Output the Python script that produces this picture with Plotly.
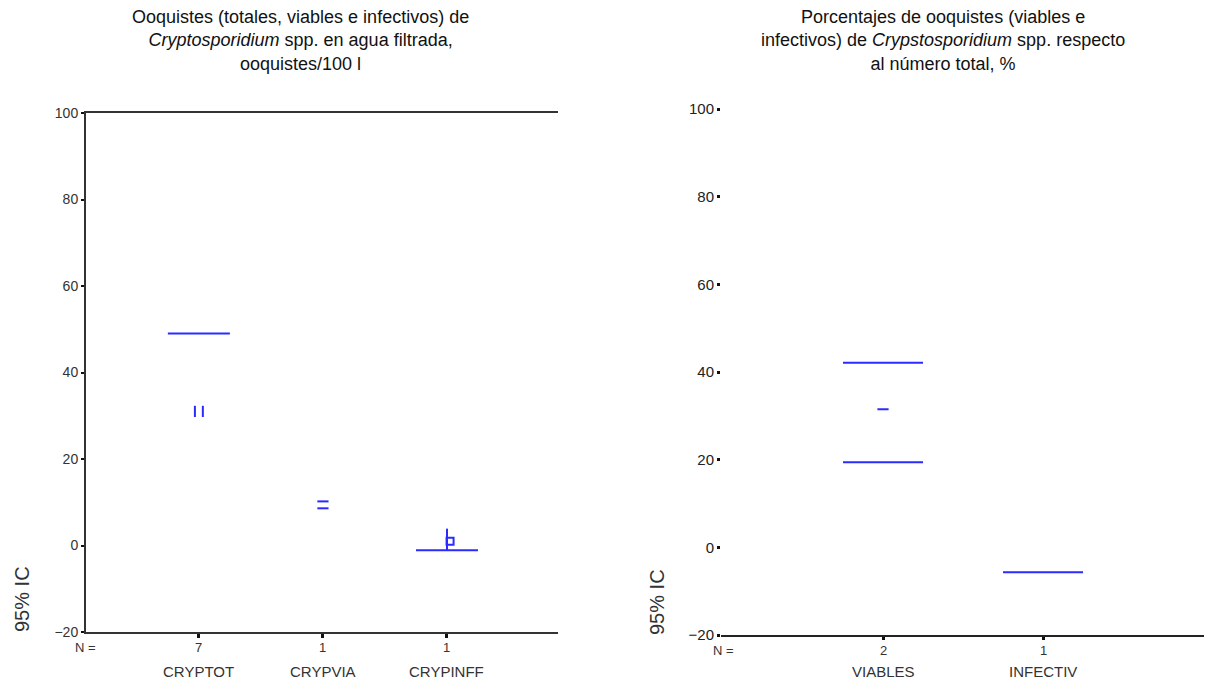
import plotly.graph_objects as go

W, H = 1218, 680

# ---------------- data ----------------
left_categories = ["CRYPTOT", "CRYPVIA", "CRYPINFF"]
left_n = [7, 1, 1]
left_caps = [49.0, None, -1.1]          # wide horizontal CI lines
left_means = [31.0, 9.4, 1.0]           # mean markers
left_whisker_top = [None, None, 3.9]    # vertical whisker end

right_categories = ["VIABLES", "INFECTIV"]
right_n = [2, 1]
right_upper = [42.1, None]
right_lower = [19.4, -5.7]
right_means = [31.5, None]

y_ticks = [-20, 0, 20, 40, 60, 80, 100]

# ---------------- style ----------------
BLUE = "#2b2bff"
FONT = "Liberation Sans, Arial, sans-serif"
CAP_HW = 0.25

def px_x(p):
    return p / W

def px_y(p):
    return 1 - p / H

fig = go.Figure()

def seg_trace(xs_centers, vals, hw, xa, ya):
    xs, ys = [], []
    for c, v in zip(xs_centers, vals):
        if v is None:
            continue
        xs += [c - hw, c + hw, None]
        ys += [v, v, None]
    return go.Scatter(x=xs, y=ys, mode="lines", line=dict(color=BLUE, width=2),
                      xaxis=xa, yaxis=ya, hoverinfo="skip")

lpos = list(range(1, len(left_categories) + 1))
rpos = list(range(1, len(right_categories) + 1))

# left panel caps
fig.add_trace(seg_trace(lpos, left_caps, CAP_HW, "x", "y"))
# left whiskers
wx, wy = [], []
for c, lo, hi in zip(lpos, left_caps, left_whisker_top):
    if hi is None or lo is None:
        continue
    wx += [c, c, None]
    wy += [lo, hi, None]
fig.add_trace(go.Scatter(x=wx, y=wy, mode="lines", line=dict(color=BLUE, width=2),
                         xaxis="x", yaxis="y", hoverinfo="skip"))
# left mean markers (glyph differs per category, as in the picture)
dx = 0.032
fig.add_trace(go.Scatter(x=[lpos[0] - dx, lpos[0] + dx], y=[left_means[0]] * 2, mode="markers",
                         marker=dict(symbol="line-ns", size=8, line=dict(color=BLUE, width=2)),
                         xaxis="x", yaxis="y", hoverinfo="skip"))
fig.add_trace(go.Scatter(x=[lpos[1]] * 2, y=[left_means[1] + 0.8, left_means[1] - 0.8], mode="markers",
                         marker=dict(symbol="line-ew", size=8, line=dict(color=BLUE, width=2)),
                         xaxis="x", yaxis="y", hoverinfo="skip"))
fig.add_trace(go.Scatter(x=[lpos[2] + 0.025], y=[left_means[2]], mode="markers",
                         marker=dict(symbol="square-open", size=7, color=BLUE, line=dict(color=BLUE, width=2)),
                         xaxis="x", yaxis="y", hoverinfo="skip"))

# right panel
fig.add_trace(seg_trace(rpos, right_upper, CAP_HW, "x2", "y2"))
fig.add_trace(seg_trace(rpos, right_lower, CAP_HW, "x2", "y2"))
fig.add_trace(go.Scatter(x=[p for p, m in zip(rpos, right_means) if m is not None],
                         y=[m for m in right_means if m is not None], mode="markers",
                         marker=dict(symbol="line-ew", size=8, line=dict(color=BLUE, width=2)),
                         xaxis="x2", yaxis="y2", hoverinfo="skip"))

fig.update_layout(
    width=W, height=H,
    margin=dict(l=0, r=0, t=0, b=0),
    paper_bgcolor="white", plot_bgcolor="white",
    showlegend=False,
    xaxis=dict(domain=[px_x(86), px_x(558)], range=[0.09, 3.895], automargin=False,
               showline=True, linecolor="#333", linewidth=2, mirror=True,
               showgrid=False, zeroline=False, tickvals=lpos, showticklabels=False,
               ticks="outside", ticklen=4, tickwidth=3, tickcolor="#111", anchor="y"),
    yaxis=dict(domain=[px_y(632), px_y(113)], range=[-20, 100], automargin=False,
               showline=True, linecolor="#333", linewidth=2,
               showgrid=False, zeroline=False, tickvals=y_ticks,
               ticks="outside", ticklen=3, tickwidth=2, tickcolor="#111",
               tickfont=dict(family=FONT, size=14, color="#333"), anchor="x"),
    xaxis2=dict(domain=[px_x(721), px_x(1204)], range=[-0.0125, 3.006], automargin=False,
                showline=True, linecolor="#222", linewidth=1.5,
                showgrid=False, zeroline=False, tickvals=rpos, showticklabels=False,
                ticks="outside", ticklen=3, tickwidth=3, tickcolor="#111", anchor="y2"),
    yaxis2=dict(domain=[px_y(635), px_y(109)], range=[-20, 100], automargin=False,
                showline=False, showgrid=False, zeroline=False, tickvals=y_ticks,
                ticks="outside", ticklen=3, tickwidth=3, tickcolor="#111",
                tickfont=dict(family=FONT, size=15, color="#222"), anchor="x2"),
)

ann = []
def text(x, y, s, size, angle=0, color="#111", xanchor="center"):
    ann.append(dict(x=px_x(x), y=px_y(y), xref="paper", yref="paper", text=s, showarrow=False,
                    xanchor=xanchor, yanchor="middle", textangle=angle,
                    font=dict(family=FONT, size=size, color=color)))

# titles
left_title = ["Ooquistes (totales, viables e infectivos) de",
              "<i>Cryptosporidium</i> spp. en agua filtrada,",
              "ooquistes/100 l"]
right_title = ["Porcentajes de ooquistes (viables e",
               "infectivos) de <i>Crypstosporidium</i> spp. respecto",
               "al número total, %"]
text(300, 40, "<br>".join(left_title), 18)
text(943, 40, "<br>".join(right_title), 18)

# y-axis titles
text(22, 599, "95% IC", 20, angle=-90, color="#333")
text(657, 602, "95% IC", 20, angle=-90, color="#333")

# N rows and category names
text(85, 647, "N =", 13, color="#333")
text(723, 650, "N =", 13, color="#333")
for p, n, c in zip(lpos, left_n, left_categories):
    ann.append(dict(x=p, y=px_y(647), xref="x", yref="paper", text=str(n), showarrow=False,
                    yanchor="middle", font=dict(family=FONT, size=13, color="#333")))
    ann.append(dict(x=p, y=px_y(671), xref="x", yref="paper", text=c, showarrow=False,
                    yanchor="middle", font=dict(family=FONT, size=15, color="#333")))
for p, n, c in zip(rpos, right_n, right_categories):
    ann.append(dict(x=p, y=px_y(650), xref="x2", yref="paper", text=str(n), showarrow=False,
                    yanchor="middle", font=dict(family=FONT, size=13, color="#333")))
    ann.append(dict(x=p, y=px_y(671), xref="x2", yref="paper", text=c, showarrow=False,
                    yanchor="middle", font=dict(family=FONT, size=15, color="#333")))

fig.update_layout(annotations=ann)
fig.write_html("out.html", config={"displayModeBar": False},
               post_script="document.body.style.margin='0';document.body.style.padding='0';")
